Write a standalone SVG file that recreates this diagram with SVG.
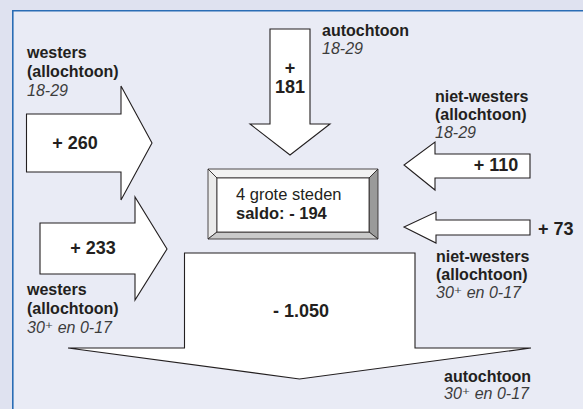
<svg xmlns="http://www.w3.org/2000/svg" width="583" height="409" viewBox="0 0 583 409">
<style>
.arrow{fill:#fff;stroke:#231f20;stroke-width:1.1;stroke-linejoin:miter}
.lb{font-family:"Liberation Sans",Arial,sans-serif;font-weight:700;font-size:16px;fill:#231f20}
.li{font-family:"Liberation Sans","DejaVu Sans",Arial,sans-serif;font-style:italic;font-size:16px;fill:#3c3c3c}
.num{font-family:"Liberation Sans",Arial,sans-serif;font-weight:700;font-size:18px;fill:#231f20}
.box{font-family:"Liberation Sans",Arial,sans-serif;font-size:16.5px;fill:#231f20}
.bev{stroke:#231f20;stroke-width:0.8;stroke-linejoin:miter}
</style>
<rect x="0" y="0" width="583" height="409" fill="#dfe2f0"/>
<rect x="12" y="10" width="571" height="399" fill="#e9ebf5"/>
<path d="M12.8,409 V10.8 H583" fill="none" stroke="#2a6db5" stroke-width="1.6"/>

<g id="connectors">
  <g id="arrow-west-18-29">
    <polygon class="arrow" points="26.5,114 121,114 121,86 152,143 121,200 121,172 26.5,172"/>
    <text class="num" x="75" y="149" text-anchor="middle">+ 260</text>
  </g>
  <g id="arrow-auto-18-29">
    <polygon class="arrow" points="270,29 310,29 310,124 330,124 290,155 250,124 270,124"/>
    <text class="num" x="290" y="74" text-anchor="middle">+</text>
    <text class="num" x="290" y="93" text-anchor="middle">181</text>
  </g>
  <g id="arrow-nw-18-29">
    <polygon class="arrow" points="530,154 435,154 435,142 404,165 435,190 435,178 530,178"/>
    <text class="num" x="496" y="171" text-anchor="middle">+ 110</text>
  </g>
  <g id="arrow-west-30">
    <polygon class="arrow" points="40,223 135,223 135,197 167,249 135,300 135,274 40,274"/>
    <text class="num" x="93" y="254" text-anchor="middle">+ 233</text>
  </g>
  <g id="arrow-nw-30">
    <polygon class="arrow" points="530,220 436,220 436,212 404,227 436,243 436,235 530,235"/>
    <text class="num" x="538" y="235">+ 73</text>
  </g>
  <g id="arrow-auto-30">
    <polygon class="arrow" points="184.5,253 415,253 415,348 531,348 299.5,379 68,348 184.5,348"/>
    <text class="num" x="301" y="317" text-anchor="middle">- 1.050</text>
  </g>
</g>

<g id="node-center">
  <polygon class="bev" points="208,169 378,169 369,178 217,178" fill="#f2f2f2"/>
  <polygon class="bev" points="208,169 217,178 217,232 208,239" fill="#ebebeb"/>
  <polygon class="bev" points="378,169 378,239 369,232 369,178" fill="#9a9a9a"/>
  <polygon class="bev" points="208,239 378,239 369,232 217,232" fill="#cacaca"/>
  <rect x="217" y="178" width="152" height="54" fill="#fff" stroke="#231f20" stroke-width="0.8"/>
  <text class="box" x="236" y="200">4 grote steden</text>
  <text class="box" x="236" y="219" font-weight="700">saldo: - 194</text>
</g>

<g id="label-west-18-29">
  <text class="lb" x="27" y="58">westers</text>
  <text class="lb" x="27" y="77">(allochtoon)</text>
  <text class="li" x="27" y="96">18-29</text>
</g>
<g id="label-auto-18-29">
  <text class="lb" x="322" y="36">autochtoon</text>
  <text class="li" x="322" y="54">18-29</text>
</g>
<g id="label-nw-18-29">
  <text class="lb" x="435" y="102">niet-westers</text>
  <text class="lb" x="435" y="120">(allochtoon)</text>
  <text class="li" x="435" y="138">18-29</text>
</g>
<g id="label-west-30">
  <text class="lb" x="27" y="295">westers</text>
  <text class="lb" x="27" y="314">(allochtoon)</text>
  <text class="li" x="27" y="333">30⁺ en 0-17</text>
</g>
<g id="label-nw-30">
  <text class="lb" x="436" y="262">niet-westers</text>
  <text class="lb" x="436" y="280">(allochtoon)</text>
  <text class="li" x="436" y="298">30⁺ en 0-17</text>
</g>
<g id="label-auto-30">
  <text class="lb" x="444" y="381.5">autochtoon</text>
  <text class="li" x="444" y="399">30⁺ en 0-17</text>
</g>
</svg>
